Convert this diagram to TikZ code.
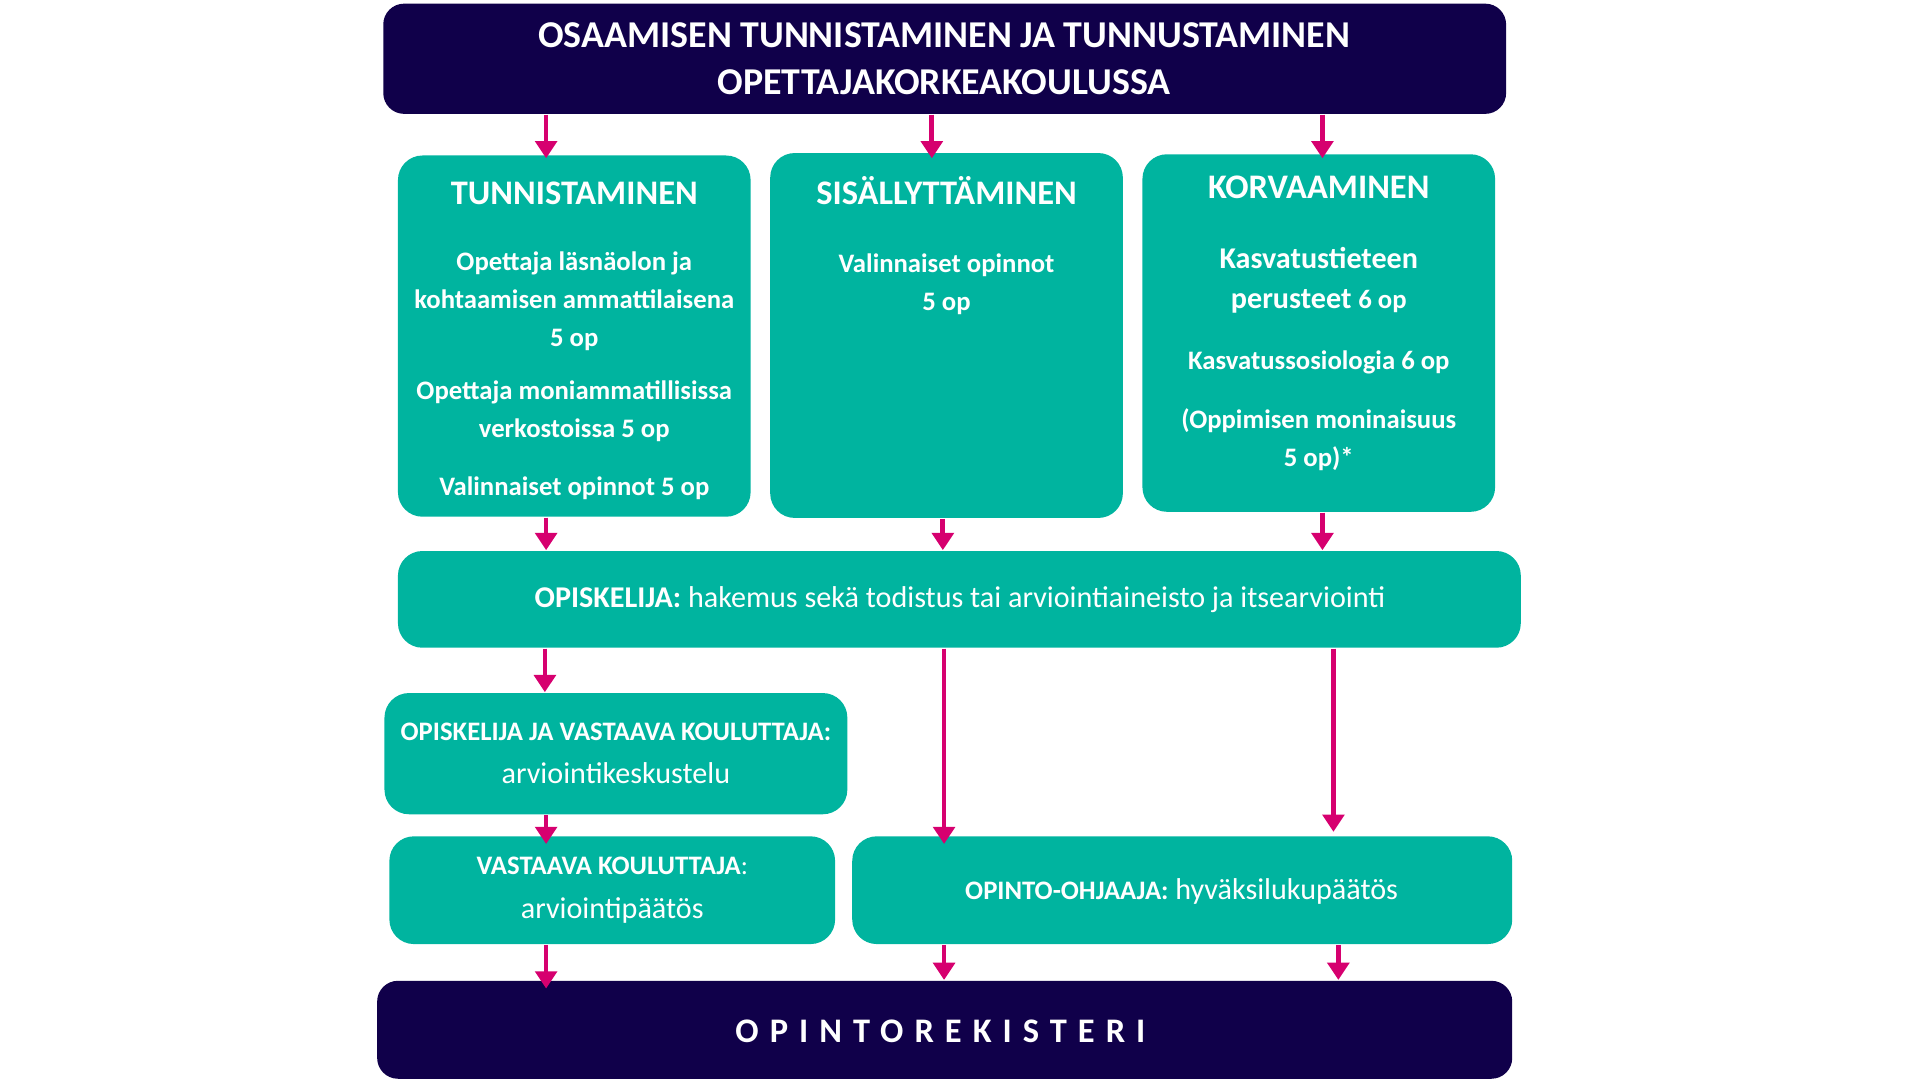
\documentclass[tikz,border=0pt]{standalone}
\usepackage{fontspec}
\usetikzlibrary{arrows.meta}
\setmainfont{Carlito}
\definecolor{navy}{HTML}{10004A}
\definecolor{teal}{HTML}{00B49F}
\definecolor{mag}{HTML}{D6006F}
\begin{document}
\begin{tikzpicture}[x=0.01cm,y=-0.01cm,
  nbox/.style={fill=navy,rounded corners=0.17cm,inner sep=0},
  tbox/.style={fill=teal,rounded corners=0.2cm,inner sep=0},
  txt/.style={text=white,font=\bfseries\fontsize{6.2}{7.2}\selectfont,align=center,inner sep=0},
  hd/.style={text=white,font=\bfseries\fontsize{8}{9}\selectfont,inner sep=0},
  arr/.style={draw=mag,line width=1.1pt,-{Triangle[length=4pt,width=5pt]}}]
\useasboundingbox (0,0) rectangle (1568,886);
\newcommand\bx[6]{\node[#1,minimum width=#4*0.01cm-#2*0.01cm,minimum height=#5*0.01cm-#3*0.01cm] (#6) at ({(#2+#4)/2},{(#3+#5)/2}) {};}
\bx{nbox}{313}{3}{1230}{93}{top}
\bx{tbox}{325}{127}{613}{422}{tun}
\bx{tbox}{629}{125}{917}{423}{sis}
\bx{tbox}{933}{126}{1221}{418}{kor}
\bx{tbox}{325}{450}{1242}{529}{bar}
\bx{tbox}{314}{566}{692}{665}{ovk}
\bx{tbox}{318}{683}{682}{771}{vk}
\bx{tbox}{696}{683}{1235}{771}{oo}
\bx{nbox}{308}{801}{1235}{881}{reg}
\node[hd,font=\bfseries\fontsize{8.8}{11}\selectfont,align=center] (tt) at (771,48) {OSAAMISEN TUNNISTAMINEN JA TUNNUSTAMINEN\\OPETTAJAKORKEAKOULUSSA};
\node[hd] (th) at (469,158) {TUNNISTAMINEN};
\node[hd] (sh) at (773,156) {SISÄLLYTTÄMINEN};
\node[hd] (kh) at (1077,153) {KORVAAMINEN};
\node[txt] (t1) at (469,246) {Opettaja läsnäolon ja\\[1.6pt]kohtaamisen ammattilaisena\\[1.6pt]5 op};
\node[txt] (t2) at (469,336) {Opettaja moniammatillisissa\\[1.6pt]verkostoissa 5 op};
\node[txt] (t3) at (469,399) {Valinnaiset opinnot 5 op};
\node[txt] (s1) at (773,232) {Valinnaiset opinnot\\[1.6pt]5 op};
\node[txt,font=\bfseries\fontsize{7}{8}\selectfont] (k1) at (1077,229) {Kasvatustieteen\\[1.4pt]perusteet {\fontsize{6.2}{7}\selectfont 6 op}};
\node[txt] (k2) at (1077,296) {Kasvatussosiologia 6 op};
\node[txt] (k3) at (1077,359) {(Oppimisen moninaisuus\\[1.6pt]5 op)*};
\node[txt,font=\fontsize{7}{8}\selectfont] (bt) at (784,490) {\textbf{OPISKELIJA:} hakemus sekä todistus tai arviointiaineisto ja itsearviointi};
\node[txt,font=\fontsize{7}{8}\selectfont] (ot) at (503,615) {{\bfseries\fontsize{6.2}{7}\selectfont OPISKELIJA JA VASTAAVA KOULUTTAJA:}\\[2pt]arviointikeskustelu};
\node[txt,font=\fontsize{7}{8}\selectfont] (vt) at (500,727) {{\bfseries\fontsize{6.2}{7}\selectfont VASTAAVA KOULUTTAJA}{\fontsize{6.2}{7}\selectfont :}\\[2pt]arviointipäätös};
\node[txt,font=\fontsize{7}{8}\selectfont] (oot) at (965,728) {{\bfseries\fontsize{6.2}{7}\selectfont OPINTO-OHJAAJA:} hyväksilukupäätös};
\node[hd,font=\bfseries\fontsize{8}{9}\selectfont\addfontfeatures{LetterSpace=32}] (rt) at (768,842) {OPINTOREKISTERI};
\coordinate (c1) at (446,0); \coordinate (c2) at (761,0); \coordinate (c3) at (1080,0);
\coordinate (d2) at (770,0); \coordinate (e1) at (445,0); \coordinate (e2) at (771,0); \coordinate (e3) at (1089,0);
\coordinate (f3) at (1093,0);
\draw[arr] (top.south -| c1) -- ([yshift=-0.03cm]tun.north -| c1);
\draw[arr] (top.south -| c2) -- ([yshift=-0.05cm]sis.north -| c2);
\draw[arr] (top.south -| c3) -- ([yshift=-0.04cm]kor.north -| c3);
\draw[arr] (tun.south -| c1) -- (bar.north -| c1);
\draw[arr] (sis.south -| d2) -- (bar.north -| d2);
\draw[arr] (kor.south -| c3) -- (bar.north -| c3);
\draw[arr] (bar.south -| e1) -- (ovk.north -| e1);
\draw[arr] (bar.south -| e2) -- ([yshift=-0.07cm]oo.north -| e2);
\draw[arr] (bar.south -| e3) -- ([yshift=0.03cm]oo.north -| e3);
\draw[arr] (ovk.south -| c1) -- ([yshift=-0.07cm]vk.north -| c1);
\draw[arr] (vk.south -| c1) -- ([yshift=-0.07cm]reg.north -| c1);
\draw[arr] (oo.south -| e2) -- (reg.north -| e2);
\draw[arr] (oo.south -| f3) -- (reg.north -| f3);
\end{tikzpicture}
\end{document}
